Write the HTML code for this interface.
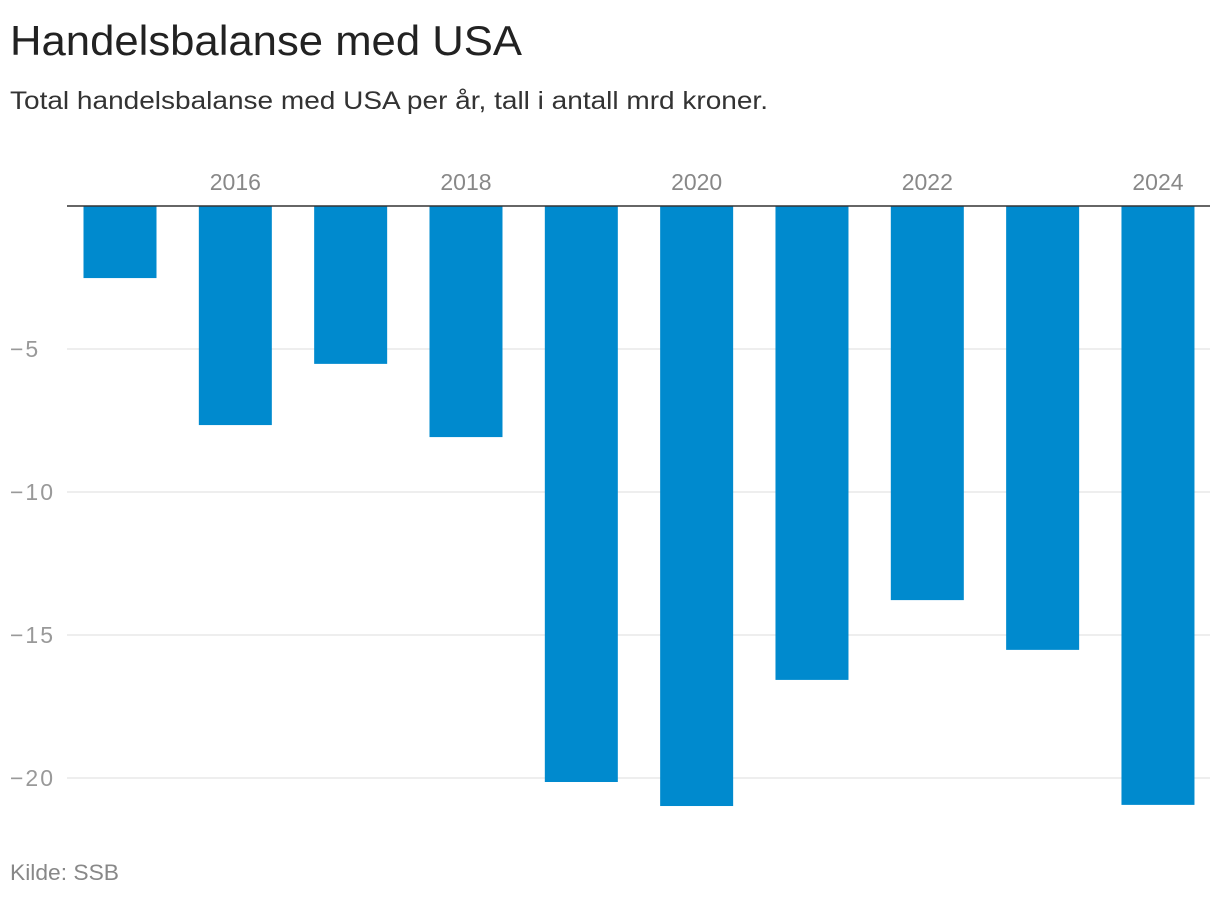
<!DOCTYPE html>
<html><head><meta charset="utf-8"><style>
body{margin:0;background:#fff;width:1220px;height:898px;overflow:hidden;font-family:"Liberation Sans",sans-serif}
</style></head><body>
<svg width="1220" height="898">
<text x="10" y="55" font-size="42" fill="#222" textLength="512" lengthAdjust="spacingAndGlyphs">Handelsbalanse med USA</text>
<text x="10" y="109" font-size="25" fill="#333" textLength="758" lengthAdjust="spacingAndGlyphs">Total handelsbalanse med USA per år, tall i antall mrd kroner.</text>
<g id="grid"></g><g id="bars"></g><g id="xt"></g>
<line x1="67" x2="1210" y1="206" y2="206" stroke="#333" stroke-width="1.5"/>
<text x="10" y="880" font-size="22" fill="#888" textLength="109" lengthAdjust="spacingAndGlyphs">Kilde: SSB</text>
</svg>
<script>
const years=[2015,2016,2017,2018,2019,2020,2021,2022,2023,2024];
const values=[-2.52,-7.66,-5.52,-8.08,-20.14,-20.98,-16.57,-13.78,-15.52,-20.94];
const yTicks=[-5,-10,-15,-20];
const xTickYears=[2016,2018,2020,2022,2024];
const NS='http://www.w3.org/2000/svg';
const y=v=>206-v*28.6;
const x=yr=>120+(yr-2015)*115.33;
const g=document.getElementById('grid'),b=document.getElementById('bars'),xt=document.getElementById('xt');
yTicks.forEach(t=>{
 const l=document.createElementNS(NS,'line');
 
 
 l.setAttribute('x1',67);l.setAttribute('x2',1210);l.setAttribute('y1',y(t));l.setAttribute('y2',y(t));
 l.setAttribute('stroke','#ddd');g.appendChild(l);
 const tx=document.createElementNS(NS,'text');
 
 
 tx.setAttribute('x',10);tx.setAttribute('y',y(t)+8);tx.setAttribute('font-size','23');tx.setAttribute('fill','#999');
 tx.setAttribute('letter-spacing','2');
 tx.textContent='−'+Math.abs(t);g.appendChild(tx);
});
years.forEach((yr,i)=>{
 const r=document.createElementNS(NS,'rect');
 
 
 r.setAttribute('x',x(yr)-36.5);r.setAttribute('width',73);
 r.setAttribute('y',206);r.setAttribute('height',y(values[i])-206);
 r.setAttribute('fill','#008ace');b.appendChild(r);
});
xTickYears.forEach(yr=>{
 const t=document.createElementNS(NS,'text');
 
 
 t.setAttribute('x',x(yr));t.setAttribute('y',190);t.setAttribute('text-anchor','middle');
 t.setAttribute('font-size','23');t.setAttribute('fill','#888');t.textContent=yr;xt.appendChild(t);
});
</script>
</body></html>
